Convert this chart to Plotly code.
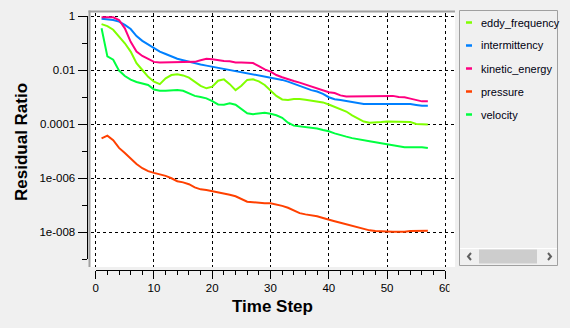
import plotly.graph_objects as go

W, H = 570, 328

steps = list(range(1, 58))

eddy_frequency = [
    0.50, 0.42, 0.31, 0.18, 0.098, 0.048, 0.018, 0.010, 0.0056, 0.0037,
    0.0030, 0.0049, 0.0065, 0.0069, 0.0063, 0.0052, 0.0037, 0.0026, 0.0021, 0.0024,
    0.0040, 0.0045, 0.0030, 0.0018, 0.0026, 0.0043, 0.0045, 0.0038, 0.0028, 0.0017,
    0.0011, 0.00081, 0.00078, 0.00085, 0.00085, 0.00079, 0.00073, 0.00069, 0.00063, 0.00053,
    0.00044, 0.00037, 0.00029, 0.00021, 0.00016, 0.000123, 0.000112, 0.000112, 0.000118, 0.000123,
    0.000123, 0.000123, 0.000123, 0.000118, 0.000100, 0.000096, 0.000096,
]

intermittency = [
    0.79, 0.74, 0.71, 0.62, 0.47, 0.33, 0.18, 0.12, 0.087, 0.063,
    0.048, 0.039, 0.031, 0.026, 0.023, 0.020, 0.018, 0.016, 0.0145, 0.0132,
    0.0126, 0.0115, 0.0105, 0.0095, 0.0087, 0.0079, 0.0072, 0.0066, 0.0060, 0.0055,
    0.0049, 0.0043, 0.0037, 0.0031, 0.0026, 0.0021, 0.0018, 0.0016, 0.0013, 0.00098,
    0.00083, 0.00078, 0.00071, 0.00064, 0.00059, 0.00055, 0.00055, 0.00055, 0.00055, 0.00055,
    0.00055, 0.00055, 0.00055, 0.00055, 0.00051, 0.00047, 0.00047,
]

kinetic_energy = [
    0.89, 0.91, 0.89, 0.71, 0.35, 0.11, 0.048, 0.033, 0.025, 0.020,
    0.019, 0.019, 0.019, 0.019, 0.019, 0.019, 0.020, 0.023, 0.026, 0.025,
    0.023, 0.0215, 0.021, 0.019, 0.019, 0.0187, 0.018, 0.014, 0.0105, 0.0087,
    0.0065, 0.0054, 0.0045, 0.0039, 0.0034, 0.0029, 0.0024, 0.0020, 0.0017, 0.0015,
    0.0014, 0.00115, 0.00105, 0.00105, 0.00105, 0.00105, 0.0011, 0.0011, 0.0011, 0.0011,
    0.0011, 0.00100, 0.00097, 0.00087, 0.00078, 0.00069, 0.00069,
]

pressure = [
    2.95e-5, 3.7e-5, 2.5e-5, 1.3e-5, 8.5e-6, 5.2e-6, 3.3e-6, 2.3e-6, 1.8e-6, 1.55e-6,
    1.38e-6, 1.2e-6, 9.8e-7, 7.6e-7, 6.9e-7, 5.9e-7, 4.5e-7, 3.8e-7, 3.6e-7, 3.3e-7,
    3.0e-7, 2.7e-7, 2.4e-7, 2.1e-7, 1.7e-7, 1.32e-7, 1.26e-7, 1.2e-7, 1.17e-7, 1.17e-7,
    1.07e-7, 9.3e-8, 7.9e-8, 6.3e-8, 5.0e-8, 4.5e-8, 4.2e-8, 3.8e-8, 3.3e-8, 2.8e-8,
    2.5e-8, 2.2e-8, 1.95e-8, 1.7e-8, 1.5e-8, 1.32e-8, 1.15e-8, 1.1e-8, 1.05e-8, 1.02e-8,
    1.02e-8, 1.02e-8, 1.02e-8, 1.1e-8, 1.12e-8, 1.12e-8, 1.12e-8,
]

velocity = [
    0.35, 0.032, 0.024, 0.0095, 0.0060, 0.0044, 0.0036, 0.0032, 0.0028, 0.0019,
    0.0017, 0.0017, 0.0018, 0.0018, 0.0017, 0.0014, 0.0011, 0.0010, 0.00089, 0.00070,
    0.00053, 0.00052, 0.00059, 0.00052, 0.00035, 0.00025, 0.00023, 0.00024, 0.00026, 0.00024,
    0.00021, 0.00017, 0.000112, 0.000087, 0.000083, 0.000079, 0.000074, 0.000068, 0.000060, 0.000054,
    0.000045, 0.000038, 0.000034, 0.000030, 0.000028, 0.000025, 0.000023, 0.000021, 0.0000195, 0.000018,
    0.0000166, 0.0000148, 0.0000138, 0.0000138, 0.0000138, 0.0000138, 0.0000129,
]

series_names = ["eddy_frequency", "intermittency", "kinetic_energy", "pressure", "velocity"]
series_values = [eddy_frequency, intermittency, kinetic_energy, pressure, velocity]
series_colors = ["#80ff00", "#0080ff", "#ff0080", "#ff4000", "#00ff40"]

x_tick_vals = [0, 10, 20, 30, 40, 50, 60]
x_tick_text = ["0", "10", "20", "30", "40", "50", "60"]
x_minor_vals = [v for v in range(0, 61, 2) if v % 10]
y_tick_vals = [1, 1e-2, 1e-4, 1e-6, 1e-8]
y_tick_text = ["1", "0.01", "0.0001", "1e-006", "1e-008"]
y_minor_vals = [1e-1, 1e-3, 1e-5, 1e-7, 1e-9]

x_title = "Time Step"
y_title = "Residual Ratio"


def fx(px):
    return px / W


def fy(py):
    return 1 - py / H


FONT = "Liberation Sans, Arial, sans-serif"

fig = go.Figure()
for name, vals, col in zip(series_names, series_values, series_colors):
    fig.add_trace(go.Scatter(
        x=steps, y=vals, mode="lines", name=name,
        line=dict(color=col, width=2), showlegend=False,
    ))

# carrier trace for the tick axes
fig.add_trace(go.Scatter(x=[], y=[], xaxis="x2", yaxis="y2",
                         showlegend=False, hoverinfo="skip"))

shapes = []
# white plot area
shapes.append(dict(type="rect", xref="paper", yref="paper", layer="below",
                   x0=fx(90), x1=fx(455), y0=fy(267), y1=fy(11),
                   fillcolor="white", line=dict(width=0)))
# sunken frame (top/left gray)
shapes.append(dict(type="line", xref="paper", yref="paper", layer="below",
                   x0=fx(89.5), x1=fx(89.5), y0=fy(267), y1=fy(10.5),
                   line=dict(color="#a0a0a0", width=2)))
shapes.append(dict(type="line", xref="paper", yref="paper", layer="below",
                   x0=fx(88.5), x1=fx(455), y0=fy(11.5), y1=fy(11.5),
                   line=dict(color="#a0a0a0", width=2)))

# legend box
LX0, LX1, LY0, LY1 = 459.5, 557.5, 10.5, 265.5
shapes.append(dict(type="rect", xref="paper", yref="paper", layer="below",
                   x0=fx(LX0), x1=fx(LX1), y0=fy(LY1), y1=fy(LY0),
                   fillcolor="#f0f0f0", line=dict(color="#a0a0a0", width=1)))

annotations = []
for i, (name, col) in enumerate(zip(series_names, series_colors)):
    yc = 22.5 + 23 * i
    shapes.append(dict(type="line", xref="paper", yref="paper",
                       x0=fx(466), x1=fx(472), y0=fy(yc), y1=fy(yc),
                       line=dict(color=col, width=2.5)))
    annotations.append(dict(text=name, xref="paper", yref="paper",
                            x=fx(479), y=fy(yc), xanchor="left", yanchor="middle",
                            showarrow=False,
                            font=dict(family=FONT, size=11, color="#000010")))

# scrollbar
shapes.append(dict(type="line", xref="paper", yref="paper",
                   x0=fx(460), x1=fx(557), y0=fy(248.5), y1=fy(248.5),
                   line=dict(color="#ffffff", width=1)))
shapes.append(dict(type="rect", xref="paper", yref="paper",
                   x0=fx(479), x1=fx(537), y0=fy(263.5), y1=fy(249.5),
                   fillcolor="#cdcdcd", line=dict(width=0)))


def chev(xt, left):
    d = 3 if left else -3
    return (f"M {fx(xt + d)} {fy(253)} L {fx(xt)} {fy(256.5)} L {fx(xt + d)} {fy(260)}")


shapes.append(dict(type="path", xref="paper", yref="paper", path=chev(468, True),
                   line=dict(color="#606060", width=2)))
shapes.append(dict(type="path", xref="paper", yref="paper", path=chev(551, False),
                   line=dict(color="#606060", width=2)))

# the chart control clips its last x tick label at its right edge
shapes.append(dict(type="rect", xref="paper", yref="paper", layer="above",
                   x0=fx(449.5), x1=fx(457), y0=fy(296), y1=fy(279),
                   fillcolor="#f0f0f0", line=dict(width=0)))

# axis titles
annotations.append(dict(text=y_title, xref="paper", yref="paper",
                        x=fx(21.5), y=fy(142.5), xanchor="center", yanchor="middle",
                        textangle=-90, showarrow=False,
                        font=dict(family=FONT, size=17, color="#000000", weight="bold")))
annotations.append(dict(text=x_title, xref="paper", yref="paper",
                        x=fx(272.7), y=fy(306.5), xanchor="center", yanchor="middle",
                        showarrow=False,
                        font=dict(family=FONT, size=17, color="#000000", weight="bold")))

tickfont = dict(family=FONT, size=11.5, color="#000000")

fig.update_layout(
    template="none",
    width=W, height=H, autosize=False,
    margin=dict(l=0, r=0, t=0, b=0, pad=0, autoexpand=False),
    paper_bgcolor="#f0f0f0", plot_bgcolor="rgba(0,0,0,0)",
    showlegend=False,
    shapes=shapes, annotations=annotations,
    xaxis=dict(domain=[fx(91), fx(455)], range=[-0.81, 61.66], automargin=False,
               tickvals=x_tick_vals, showticklabels=False, ticks="",
               showgrid=True, gridcolor="#000000", gridwidth=1, griddash="dot",
               zeroline=False, showline=False, fixedrange=True),
    yaxis=dict(type="log", domain=[fy(267), fy(13)], range=[-9.296, 0.111], automargin=False,
               tickvals=y_tick_vals, showticklabels=False, ticks="",
               showgrid=True, gridcolor="#000000", gridwidth=1, griddash="dot",
               zeroline=False, showline=False, fixedrange=True),
    xaxis2=dict(domain=[fx(95.7), fx(445.3)], range=[0, 60], automargin=False,
                anchor="free", position=fy(269.5),
                tickvals=x_tick_vals, ticktext=x_tick_text,
                ticks="outside", ticklen=8, tickwidth=1, tickcolor="#000000",
                minor=dict(tickvals=x_minor_vals, ticks="outside", ticklen=4,
                           tickwidth=1, tickcolor="#000000", showgrid=False),
                showline=True, linecolor="#000000", linewidth=1,
                showgrid=False, zeroline=False, tickfont=tickfont, fixedrange=True),
    yaxis2=dict(type="log", domain=[fy(259), fy(16)], range=[-9, 0], automargin=False,
                anchor="free", position=fx(86.5), side="left",
                tickvals=y_tick_vals, ticktext=y_tick_text,
                ticks="outside", ticklen=9, tickwidth=1, tickcolor="#000000",
                minor=dict(tickvals=y_minor_vals, ticks="outside", ticklen=5,
                           tickwidth=1, tickcolor="#000000", showgrid=False),
                showline=True, linecolor="#000000", linewidth=1,
                showgrid=False, zeroline=False, tickfont=tickfont, fixedrange=True),
)

fig.write_html("out.html")
